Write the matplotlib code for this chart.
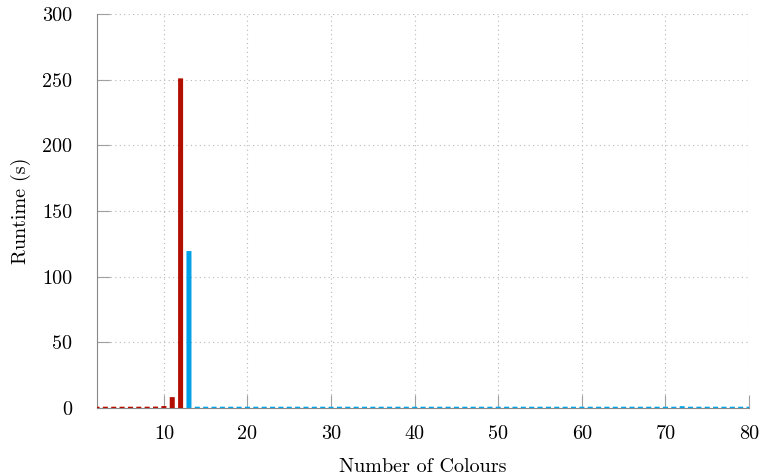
import numpy as np
import matplotlib.pyplot as plt

plt.rcParams['font.family'] = ['cmr10', 'DejaVu Serif']

# runtime per number of colours, split by outcome
red_colours = list(range(2, 13))
red_runtime = [1.0, 1.0, 1.0, 1.0, 1.0, 1.0, 1.0, 1.1, 1.5, 8.3, 251.0]
blue_colours = list(range(13, 81))
blue_runtime = [119.5] + [1.0] * 67
blue_runtime[72 - 13] = 1.4

red = '#b30f00'
blue = '#00a2e8'

fig = plt.figure(figsize=(7.62, 4.75), dpi=100)
ax = fig.add_axes([0.1273, 0.141, 0.8557, 0.8295])

ax.bar(red_colours, red_runtime, width=0.6, color=red, zorder=3, snap=False)
ax.bar(blue_colours, blue_runtime, width=0.6, color=blue, zorder=3, snap=False)

xt = [10, 20, 30, 40, 50, 60, 70, 80]
yt = [0, 50, 100, 150, 200, 250, 300]
ax.set_xlim(2, 80)
ax.set_ylim(0, 300)
ax.set_xticks(xt)
ax.set_xticklabels([str(v) for v in xt])
ax.set_yticks(yt)
ax.set_yticklabels([str(v) for v in yt])

ax.grid(True, linestyle=(0, (1, 3)), color='#b8b8b8', linewidth=0.8, zorder=0)
for s in ['top', 'right']:
    ax.spines[s].set_visible(False)
for s in ['left', 'bottom']:
    ax.spines[s].set_color('#888888')
    ax.spines[s].set_zorder(2)
ax.tick_params(direction='in', length=9.5, color='#a0a0a0', labelsize=14.5)
ax.tick_params(axis='y', pad=18)
ax.tick_params(axis='x', pad=12)

ax.set_xlabel('Number of Colours', fontsize=14.5, labelpad=11)
ax.set_ylabel('Runtime (s)', fontsize=14.5, labelpad=8)

fig.savefig('out.png', dpi=100)
